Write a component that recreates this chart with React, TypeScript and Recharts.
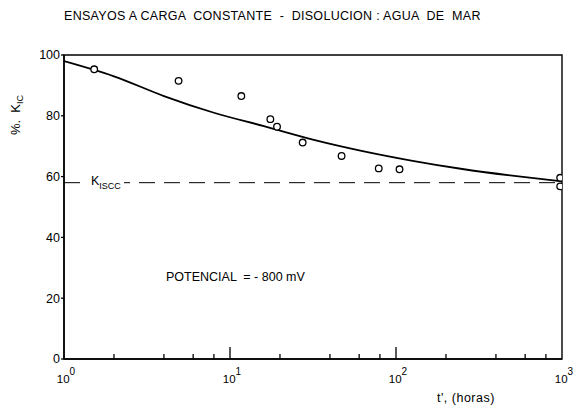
import React from 'react';
import { ComposedChart, XAxis, YAxis, Line, Scatter, ReferenceLine, ReferenceArea } from 'recharts';

// Fitted curve (t in hours, % K_IC)
const CURVE_T = [1, 2, 4, 8, 16, 32, 63, 126, 251, 501, 1000];
const CURVE_V = [98, 93, 86.5, 81, 76.6, 72.1, 68.4, 65.2, 62.5, 60.3, 58.4];

// Experimental points
const PTS_T = [1.52, 4.9, 11.7, 17.5, 19.2, 27.4, 47, 78.7, 105, 975, 975];
const PTS_V = [95.3, 91.5, 86.5, 78.9, 76.4, 71.2, 66.8, 62.7, 62.4, 59.6, 56.8];

// Threshold K_ISCC
const KISCC = 58;

// Axes ticks
const Y_TICKS = [0, 20, 40, 60, 80, 100];
const MAJOR_TICKS = [1, 10, 100, 1000];
const MINOR_TICKS = [2, 4, 6, 8, 20, 40, 60, 80, 200, 400, 600, 800];

const curveData = CURVE_T.map((t, i) => ({ t, v: CURVE_V[i] }));
const ptsData = PTS_T.map((t, i) => ({ t, v: PTS_V[i] }));
const allXTicks = [...MAJOR_TICKS, ...MINOR_TICKS].sort((a, b) => a - b);

const FONT = '"Liberation Sans", Arial, sans-serif';

const XTick = (props: any) => {
  const { x, y, payload } = props;
  const v = payload.value;
  const isMajor = MAJOR_TICKS.includes(v);
  const isEdge = v === 1 || v === 1000;
  const exp = Math.round(Math.log10(v));
  return (
    <g>
      {!isEdge && (
        <line x1={x} x2={x} y1={y} y2={y - (isMajor ? 12 : 5)} stroke="#000" strokeWidth={1.3} />
      )}
      {isMajor && (
        <text x={x + 2} y={y + 24} textAnchor="middle" fontSize={11.5} fontFamily={FONT} fill="#000">
          <tspan>10</tspan>
          <tspan dy={-8} fontSize={10}>{exp}</tspan>
        </text>
      )}
    </g>
  );
};

const Dot = (props: any) => {
  const { cx, cy } = props;
  return <circle cx={cx} cy={cy} r={3.3} fill="#fff" stroke="#000" strokeWidth={1.3} />;
};

export default function App() {
  return (
    <div style={{ position: 'absolute', left: 0, top: 0, width: 577, height: 410, background: '#fff', fontFamily: FONT, color: '#000' }}>
      <ComposedChart width={577} height={410} margin={{ top: 55, right: 15, left: 24, bottom: 21 }}>
        <XAxis
          xAxisId="x"
          dataKey="t"
          type="number"
          scale="log"
          domain={[1, 1000]}
          ticks={allXTicks}
          interval={0}
          tick={<XTick />}
          tickLine={false}
          tickSize={0}
          tickMargin={0}
          height={30}
          axisLine={{ stroke: '#000', strokeWidth: 1.5 }}
          allowDataOverflow
        />
        <YAxis
          yAxisId="y"
          dataKey="v"
          type="number"
          domain={[0, 100]}
          ticks={Y_TICKS}
          width={40}
          tickSize={3}
          tickMargin={1}
          tickLine={{ stroke: '#000', strokeWidth: 1.3 }}
          axisLine={{ stroke: '#000', strokeWidth: 1.5 }}
          tick={{ fill: '#000', fontSize: 12.5, fontFamily: FONT }}
        />
        <ReferenceArea xAxisId="x" yAxisId="y" x1={1} x2={1000} y1={0} y2={100} fill="none" stroke="#000" strokeWidth={1.4} />
        <ReferenceLine xAxisId="x" yAxisId="y" y={KISCC} stroke="#000" strokeWidth={1} strokeDasharray="16 9" />
        <Line
          xAxisId="x"
          yAxisId="y"
          data={curveData}
          dataKey="v"
          type="monotone"
          stroke="#000"
          strokeWidth={1.8}
          dot={false}
          activeDot={false}
          isAnimationActive={false}
        />
        <Scatter xAxisId="x" yAxisId="y" data={ptsData} dataKey="v" shape={<Dot />} isAnimationActive={false} />
      </ComposedChart>

      <div style={{ position: 'absolute', left: 64, top: 9, fontSize: 12.5, lineHeight: '14px', whiteSpace: 'pre', letterSpacing: 0.3 }}>
        ENSAYOS A CARGA  CONSTANTE  -  DISOLUCION : AGUA  DE  MAR
      </div>

      <div style={{ position: 'absolute', left: 18, top: 115, transform: 'translate(-50%, -50%) rotate(-90deg)', fontSize: 13, lineHeight: '14px', whiteSpace: 'pre' }}>
        %.  K<sub style={{ fontSize: 9 }}>IC</sub>
      </div>

      <div style={{ position: 'absolute', left: 88, top: 174, fontSize: 12.5, lineHeight: '14px', whiteSpace: 'pre', background: '#fff', padding: '0 3px' }}>
        K<sub style={{ fontSize: 9 }}>ISCC</sub>
      </div>

      <div style={{ position: 'absolute', left: 166, top: 270, fontSize: 12.5, lineHeight: '14px', whiteSpace: 'pre' }}>
        POTENCIAL  = - 800 mV
      </div>

      <div style={{ position: 'absolute', left: 437, top: 391, fontSize: 12.5, lineHeight: '14px', whiteSpace: 'pre', letterSpacing: 0.5 }}>
        t', (horas)
      </div>
    </div>
  );
}
